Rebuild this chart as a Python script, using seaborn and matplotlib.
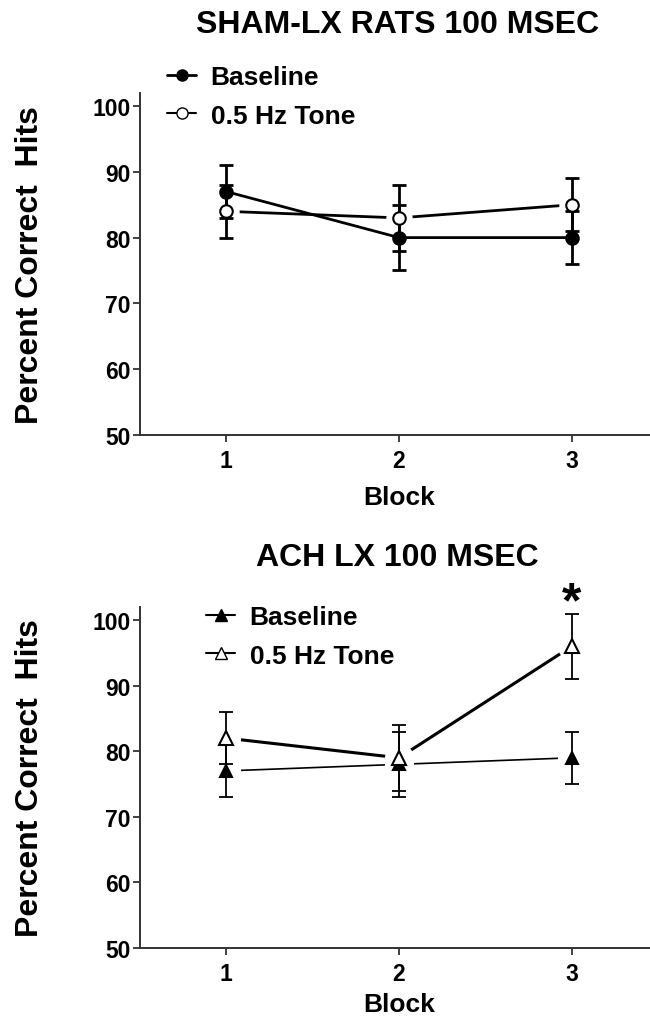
import matplotlib
matplotlib.use("Agg")
import matplotlib.pyplot as plt
import seaborn as sns
import pandas as pd
from matplotlib.lines import Line2D

# ---------------- data ----------------
blocks = [1, 2, 3]
series_labels = ["Baseline", "0.5 Hz Tone"]

sham_baseline = [87, 80, 80]
sham_baseline_err = [4, 5, 4]
sham_tone = [84, 83, 85]
sham_tone_err = [4, 5, 4]

ach_baseline = [77, 78, 79]
ach_baseline_err = [4, 5, 4]
ach_tone = [82, 79, 96]
ach_tone_err = [4, 5, 5]

titles = ["SHAM-LX RATS 100 MSEC", "ACH LX 100 MSEC"]
x_label = "Block"
y_label = "Percent Correct  Hits"
y_ticks = [50, 60, 70, 80, 90, 100]
x_ticks = [1, 2, 3]
sig_block = 3

# ---------------- style ----------------
sns.set_style("ticks")
plt.rcParams["font.family"] = ["Liberation Sans", "DejaVu Sans"]
plt.rcParams["font.weight"] = "bold"
plt.rcParams["text.color"] = "black"
plt.rcParams["axes.labelcolor"] = "black"
AX_COLOR = "#333333"

fig = plt.figure(figsize=(6.5, 10.2), dpi=100)
ax_top = fig.add_axes([0.2154, 0.5728, 0.797, 0.335])
ax_bot = fig.add_axes([0.2154, 0.0697, 0.797, 0.3342])


def draw_series(ax, y, err, marker, filled, lw, elw, gap, ms, halo_ms):
    df = pd.DataFrame({"Block": blocks, "val": y})
    sns.lineplot(data=df, x="Block", y="val", ax=ax, color="black",
                 linewidth=lw, zorder=1, errorbar=None)
    if gap:
        ax.plot(df["Block"], df["val"], linestyle="none", marker="o",
                markersize=halo_ms, color="white", markeredgewidth=0, zorder=2)
    ax.errorbar(df["Block"], df["val"], yerr=err, fmt="none", ecolor="black",
                elinewidth=elw, capsize=5, capthick=elw, zorder=3)
    ax.plot(df["Block"], df["val"], linestyle="none", marker=marker,
            markersize=ms, markerfacecolor="black" if filled else "white",
            markeredgecolor="black", markeredgewidth=1.5, zorder=4)


def style_axes(ax, xlabel_y):
    ax.set_xlim(0.5, 3.5)
    ax.set_ylim(50, 102)
    ax.set_xticks(x_ticks)
    ax.set_yticks(y_ticks)
    ax.set_xticklabels([str(b) for b in x_ticks], fontsize=16.5, fontweight="bold")
    ax.set_yticklabels([str(t) for t in y_ticks], fontsize=16.5, fontweight="bold")
    for s in ["top", "right"]:
        ax.spines[s].set_visible(False)
    for s in ["left", "bottom"]:
        ax.spines[s].set_color(AX_COLOR)
        ax.spines[s].set_linewidth(1.4)
    ax.tick_params(axis="both", colors=AX_COLOR, width=1.3, length=5,
                   labelcolor="black")
    ax.tick_params(axis="x", pad=5)
    ax.tick_params(axis="y", pad=2)
    ax.set_xlabel(x_label, fontsize=19, fontweight="bold", color="black")
    ax.set_ylabel(y_label, fontsize=23, fontweight="bold", color="black")
    ax.xaxis.set_label_coords(0.5, xlabel_y)
    ax.yaxis.set_label_coords(-0.184, 0.5)


legend_kw = dict(loc="upper left", frameon=False,
                 prop={"size": 19, "weight": "bold"}, handlelength=1.1,
                 handletextpad=0.55, labelspacing=0.55, borderpad=0,
                 borderaxespad=0)

# ---- top panel ----
draw_series(ax_top, sham_baseline, sham_baseline_err, "o", True, 2.0, 2.0,
            False, 9, 19)
draw_series(ax_top, sham_tone, sham_tone_err, "o", False, 2.0, 2.0,
            True, 9, 19)
style_axes(ax_top, -0.148)
fig.text(0.612, 1 - 25 / 1020, titles[0], ha="center", va="center",
         fontsize=23, fontweight="bold", color="black")
h_top = [Line2D([0], [0], color="black", lw=2, marker="o", ms=8,
                markerfacecolor="black", markeredgecolor="black"),
         Line2D([0], [0], color="black", lw=1.5, marker="o", ms=8,
                markerfacecolor="white", markeredgecolor="black")]
fig.legend(h_top, series_labels, bbox_to_anchor=(167 / 650, 1 - 66 / 1020),
           **legend_kw)

# ---- bottom panel ----
draw_series(ax_bot, ach_baseline, ach_baseline_err, "^", True, 1.2, 1.3,
            True, 9, 21)
draw_series(ax_bot, ach_tone, ach_tone_err, "^", False, 2.2, 1.3,
            True, 10, 21)
style_axes(ax_bot, -0.128)
fig.text(0.612, 1 - 558 / 1020, titles[1], ha="center", va="center",
         fontsize=23, fontweight="bold", color="black")
h_bot = [Line2D([0], [0], color="black", lw=1.5, marker="^", ms=8,
                markerfacecolor="black", markeredgecolor="black"),
         Line2D([0], [0], color="black", lw=1.5, marker="^", ms=8,
                markerfacecolor="white", markeredgecolor="black")]
fig.legend(h_bot, series_labels, bbox_to_anchor=(206 / 650, 1 - 606 / 1020),
           **legend_kw)

idx = blocks.index(sig_block)
ax_bot.text(sig_block, ach_tone[idx] + ach_tone_err[idx] - 0.4, "*",
            ha="center", va="baseline", fontsize=36, fontweight="bold",
            color="black", clip_on=False)

fig.savefig("out.png", dpi=100, facecolor="white")
